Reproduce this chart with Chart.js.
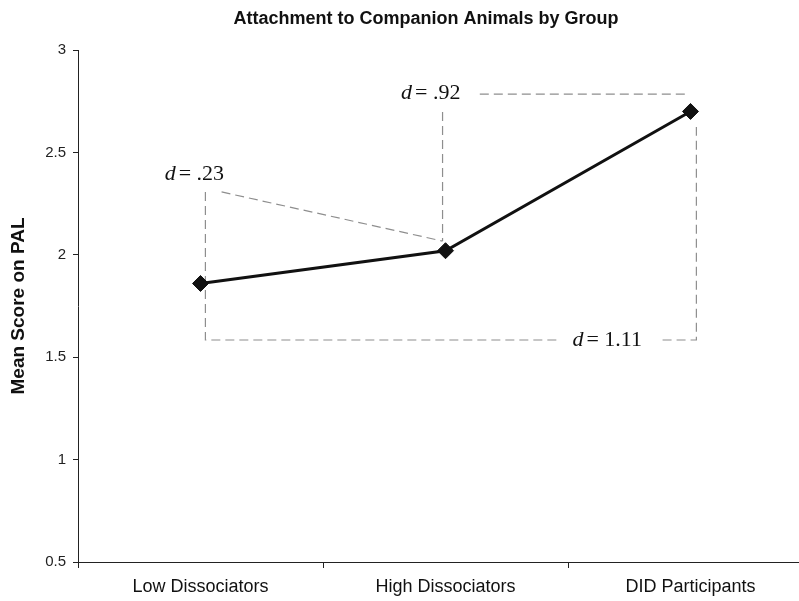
<!DOCTYPE html>
<html>
<head>
<meta charset="utf-8">
<script src="https://cdn.jsdelivr.net/npm/chart.js@4/dist/chart.umd.min.js"></script>
<style>
  html, body { margin: 0; padding: 0; background: #fff; overflow: hidden; }
  #wrap { width: 822px; height: 601px; }
</style>
</head>
<body>
<div id="wrap"><canvas id="c" width="822" height="601"></canvas></div>
<script>
// ---- data ----
const categories = ['Low Dissociators', 'High Dissociators', 'DID Participants'];
const meanScores = [1.86, 2.02, 2.70];
const yTicks = [0.5, 1, 1.5, 2, 2.5, 3];
const effectLabels = ['.23', '.92', '1.11'];
const chartTitle = 'Attachment to Companion Animals by Group';
const yAxisTitle = 'Mean Score on PAL';

// effect-size bracket paths in data space: [categoryIndex, value]
const bracketPaths = [
  [[0.02, 2.307], [0.02, 1.584], [1.457, 1.584]],
  [[1.886, 1.584], [2.024, 1.584], [2.024, 2.624]],
  [[0.086, 2.307], [0.988, 2.067]],
  [[0.988, 2.697], [0.988, 2.067]],
  [[1.14, 2.785], [1.99, 2.785]]
];
// label anchors [categoryIndex, value]
const labelAnchors = [[-0.025, 2.395], [0.94, 2.79], [1.66, 1.584]];

const annotations = {
  id: 'effectSizes',
  beforeDatasetsDraw(chart) {
    const ctx = chart.ctx, xs = chart.scales.x, ys = chart.scales.y;
    ctx.save();
    ctx.strokeStyle = '#8e8e8e';
    ctx.lineWidth = 1.2;
    ctx.setLineDash([9, 5]);
    bracketPaths.forEach(path => {
      ctx.beginPath();
      path.forEach(([i, v], k) => {
        const px = xs.getPixelForValue(i), py = ys.getPixelForValue(v);
        if (k === 0) ctx.moveTo(px, py); else ctx.lineTo(px, py);
      });
      ctx.stroke();
    });
    ctx.setLineDash([]);
    ctx.fillStyle = '#111';
    ctx.textBaseline = 'middle';
    effectLabels.forEach((lab, n) => {
      const [i, v] = labelAnchors[n];
      const cx = xs.getPixelForValue(i), cy = ys.getPixelForValue(v);
      const fItal = 'italic 22px "Liberation Serif", "Times New Roman", serif';
      const fReg = '22px "Liberation Serif", "Times New Roman", serif';
      ctx.font = fItal; const wd = ctx.measureText('d').width;
      ctx.font = fReg; const rest = '= ' + lab; const wr = ctx.measureText(rest).width;
      const gap = 3;
      const x0 = cx - (wd + gap + wr) / 2;
      ctx.textAlign = 'left';
      ctx.font = fItal; ctx.fillText('d', x0, cy);
      ctx.font = fReg; ctx.fillText(rest, x0 + wd + gap, cy);
    });
    ctx.restore();
  }
};

const titleDrawer = {
  id: 'titleDrawer',
  afterDraw(chart) {
    const ctx = chart.ctx;
    ctx.save();
    ctx.fillStyle = '#111';
    ctx.font = 'bold 18px "Liberation Sans", Arial, sans-serif';
    ctx.textAlign = 'center';
    ctx.textBaseline = 'middle';
    ctx.fillText(chartTitle, 426, 19);
    ctx.restore();
  }
};

new Chart(document.getElementById('c'), {
  type: 'line',
  data: {
    labels: categories,
    datasets: [{
      data: meanScores,
      borderColor: '#111',
      backgroundColor: '#111',
      borderWidth: 3,
      pointStyle: 'rectRot',
      pointRadius: 8,
      pointBorderWidth: 1,
      pointBackgroundColor: '#111',
      pointBorderColor: '#111',
      tension: 0
    }]
  },
  options: {
    responsive: false,
    animation: false,
    events: [],
    layout: { padding: { top: 50, left: 0, right: 0, bottom: 0 } },
    plugins: {
      legend: { display: false },
      tooltip: { enabled: false },
      title: { display: false }
    },
    scales: {
      x: {
        type: 'category',
        offset: true,
        grid: { offset: true, drawOnChartArea: false, drawTicks: true, tickLength: 6, color: '#222', lineWidth: 1 },
        border: { color: '#222', width: 1 },
        ticks: { color: '#111', padding: 8, font: { family: '"Liberation Sans", Arial, sans-serif', size: 18 } },
        afterFit(s) { s.height = 39; }
      },
      y: {
        min: 0.5,
        max: 3,
        afterBuildTicks(s) { s.ticks = yTicks.map(v => ({ value: v })); },
        grid: { drawOnChartArea: false, drawTicks: true, tickLength: 5, color: '#222', lineWidth: 1 },
        border: { color: '#222', width: 1 },
        ticks: { color: '#222', padding: 7, font: { family: '"Liberation Sans", Arial, sans-serif', size: 15 },
                 callback: v => String(v) },
        title: { display: true, text: yAxisTitle, color: '#111', padding: { top: 7, bottom: 0 },
                 font: { family: '"Liberation Sans", Arial, sans-serif', size: 19, weight: 'bold' } },
        afterFit(s) { s.width = 78; }
      }
    }
  },
  plugins: [annotations, titleDrawer]
});
</script>
</body>
</html>
